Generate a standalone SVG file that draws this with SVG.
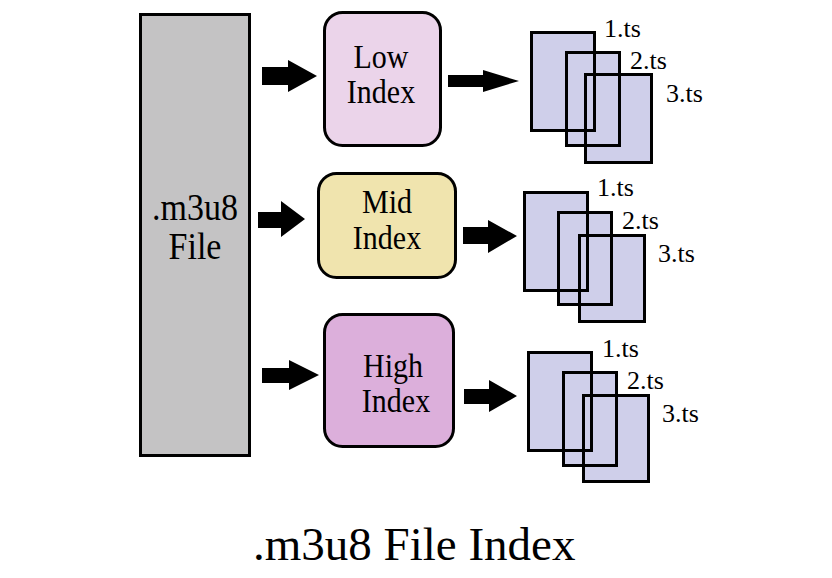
<svg xmlns="http://www.w3.org/2000/svg" width="832" height="578" viewBox="0 0 832 578">
<style>
text{font-family:"Liberation Serif","DejaVu Serif",serif;fill:#000}
.n{font-size:30px;text-anchor:middle}
.ts{font-size:26px}
.box{stroke:#000;stroke-width:3}
.seg{fill:#cfcfea}
.segl{fill:none;stroke:#000;stroke-width:3}
.arr{fill:#000}
</style>
<rect width="832" height="578" fill="#fff"/>
<g id="m3u8-file">
<rect class="box" x="140.5" y="14.5" width="109" height="441" fill="#c4c3c4"/>
<text font-size="34" text-anchor="middle" transform="translate(195 220) scale(1 1.1)">.m3u8</text>
<text font-size="34" text-anchor="middle" transform="translate(195 259) scale(1 1.1)">File</text>
</g>
<g id="low-index">
<rect class="box" x="324.5" y="12.5" width="116" height="133" rx="18" fill="#ebd4ea"/>
<text class="n" transform="translate(381 68) scale(1 1.1)">Low</text>
<text class="n" transform="translate(381 103) scale(1 1.1)">Index</text>
</g>
<g id="mid-index">
<rect class="box" x="318.5" y="173.5" width="137" height="104" rx="18" fill="#f0e4ae"/>
<text class="n" transform="translate(387 213) scale(1 1.1)">Mid</text>
<text class="n" transform="translate(387 249) scale(1 1.1)">Index</text>
</g>
<g id="high-index">
<rect class="box" x="324.5" y="314.5" width="129" height="132" rx="18" fill="#dcafdb"/>
<text class="n" transform="translate(393 377) scale(1 1.1)">High</text>
<text class="n" transform="translate(396 412) scale(1 1.1)">Index</text>
</g>
<g id="low-segments">
<rect class="seg" x="531.5" y="32.5" width="63" height="98"/>
<rect class="seg" x="566.5" y="52.5" width="53" height="93"/>
<rect class="seg" x="585.5" y="74.5" width="66" height="88"/>
<rect class="segl" x="531.5" y="32.5" width="63" height="98"/>
<rect class="segl" x="566.5" y="52.5" width="53" height="93"/>
<rect class="segl" x="585.5" y="74.5" width="66" height="88"/>
<text class="ts" x="604" y="37">1.ts</text>
<text class="ts" x="630" y="69">2.ts</text>
<text class="ts" x="666" y="102">3.ts</text>
</g>
<g id="mid-segments">
<rect class="seg" x="524.5" y="192.5" width="63" height="98"/>
<rect class="seg" x="558.5" y="212.5" width="53" height="92"/>
<rect class="seg" x="579.5" y="235.5" width="65" height="86"/>
<rect class="segl" x="524.5" y="192.5" width="63" height="98"/>
<rect class="segl" x="558.5" y="212.5" width="53" height="92"/>
<rect class="segl" x="579.5" y="235.5" width="65" height="86"/>
<text class="ts" x="597" y="196">1.ts</text>
<text class="ts" x="622" y="229">2.ts</text>
<text class="ts" x="658" y="262">3.ts</text>
</g>
<g id="high-segments">
<rect class="seg" x="528.5" y="352.5" width="63" height="98"/>
<rect class="seg" x="563.5" y="372.5" width="53" height="93"/>
<rect class="seg" x="583.5" y="395.5" width="65" height="86"/>
<rect class="segl" x="528.5" y="352.5" width="63" height="98"/>
<rect class="segl" x="563.5" y="372.5" width="53" height="93"/>
<rect class="segl" x="583.5" y="395.5" width="65" height="86"/>
<text class="ts" x="602" y="357">1.ts</text>
<text class="ts" x="627" y="389">2.ts</text>
<text class="ts" x="662" y="422">3.ts</text>
</g>
<g id="connectors">
<polygon class="arr" points="262,67 288,67 288,60 317,76 288,92 288,85 262,85"/>
<polygon class="arr" points="258,212 281,212 281,201 305,219 281,237 281,228 258,228"/>
<polygon class="arr" points="262,368 289,368 289,360 319,375 289,390 289,383 262,383"/>
<polygon class="arr" points="448,75 483,75 483,70 519,81 483,92 483,87 448,87"/>
<polygon class="arr" points="463,227 488,227 488,220 517,236 488,253 488,244 463,244"/>
<polygon class="arr" points="464,389 489,389 489,380 517,396 489,412 489,404 464,404"/>
</g>
<text font-size="47" x="253" y="560">.m3u8 File Index</text>
</svg>
